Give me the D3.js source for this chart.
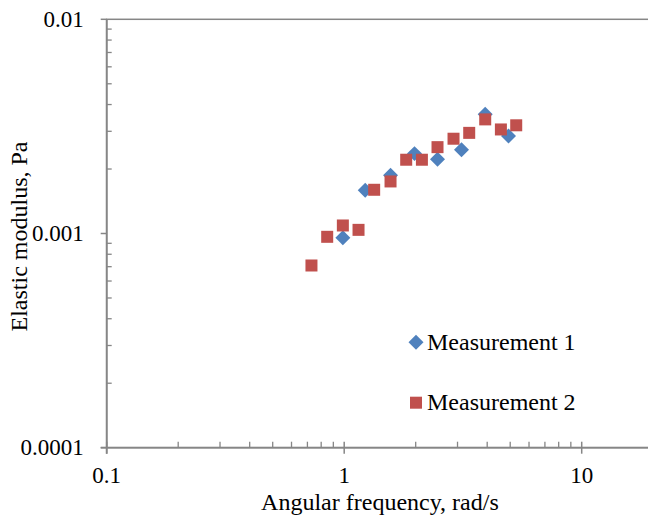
<!DOCTYPE html>
<html>
<head>
<meta charset="utf-8">
<script src="https://cdn.jsdelivr.net/npm/d3@7"></script>
<style>
  body { margin: 0; background: #fff; }
  svg { display: block; }
</style>
</head>
<body>
<svg id="chart" width="648" height="520"></svg>
<script>
// ---- data ----
const m1Freq = [0.987, 1.226, 1.567, 1.977, 2.471, 3.118, 3.924, 4.918];
const m1Mod  = [0.000955, 0.00159, 0.00187, 0.00236, 0.00222, 0.00246, 0.0036, 0.00285];
const m2Freq = [0.728, 0.848, 0.987, 1.149, 1.337, 1.567, 1.824, 2.124, 2.471, 2.886, 3.36, 3.924, 4.568, 5.30];
const m2Mod  = [0.000709, 0.000965, 0.00109, 0.00104, 0.0016, 0.00175, 0.00221, 0.00221, 0.00253, 0.00277, 0.00295, 0.00341, 0.00306, 0.0032];
const seriesNames = ["Measurement 1", "Measurement 2"];
const xMajorTicks = [0.1, 1, 10];
const yMajorTicks = [0.0001, 0.001, 0.01];
const xTickLabels = ["0.1", "1", "10"];
const yTickLabels = ["0.0001", "0.001", "0.01"];
const xTitle = "Angular frequency, rad/s";
const yTitle = "Elastic modulus, Pa";

// ---- layout ----
const FONT = "'Liberation Serif', 'Times New Roman', Times, 'DejaVu Serif', serif";
const svg = d3.select("#chart").style("font-family", FONT).attr("font-family", FONT);
const pLeft = 106.7, pRight = 653.2, pTop = 19.3, pBottom = 447.7;
const axisColor = "#868686";
const blue = "#4F81BD", red = "#C0504D";

const x = d3.scaleLog().domain([0.1, 20]).range([pLeft, pRight]);
const y = d3.scaleLog().domain([0.0001, 0.01]).range([pBottom, pTop]);

// plot border (top/right)
svg.append("rect")
  .attr("x", pLeft).attr("y", pTop)
  .attr("width", pRight - pLeft).attr("height", pBottom - pTop)
  .attr("fill", "none").attr("stroke", axisColor).attr("stroke-width", 1.5);

// minor ticks
const xMinor = [];
[0.1, 1, 10].forEach(d => { for (let k = 2; k <= 9; k++) { const v = d * k; if (v <= 20) xMinor.push(v); } });
const yMinor = [];
[0.0001, 0.001].forEach(d => { for (let k = 2; k <= 9; k++) yMinor.push(d * k); });

// X axis
const xAxisG = svg.append("g").attr("transform", `translate(0,${pBottom})`);
xAxisG.append("line").attr("x1", pLeft - 6).attr("x2", pRight).attr("y1", 0).attr("y2", 0)
  .attr("stroke", axisColor).attr("stroke-width", 1.8);
xAxisG.selectAll(".xminor").data(xMinor).join("line")
  .attr("x1", d => x(d)).attr("x2", d => x(d)).attr("y1", 0).attr("y2", -6)
  .attr("stroke", axisColor).attr("stroke-width", 1.3);
xAxisG.selectAll(".xmajor").data(xMajorTicks).join("line")
  .attr("x1", d => x(d)).attr("x2", d => x(d)).attr("y1", -6).attr("y2", 6)
  .attr("stroke", axisColor).attr("stroke-width", 1.5);
xAxisG.selectAll(".xlab").data(xMajorTicks).join("text")
  .attr("x", d => x(d)).attr("y", 35.5)
  .attr("text-anchor", "middle").attr("font-size", 23).attr("font-family", FONT)
  .text((d, i) => xTickLabels[i]);

// Y axis
const yAxisG = svg.append("g").attr("transform", `translate(${pLeft},0)`);
yAxisG.append("line").attr("x1", 0).attr("x2", 0).attr("y1", pTop).attr("y2", pBottom + 6)
  .attr("stroke", axisColor).attr("stroke-width", 1.8);
yAxisG.selectAll(".yminor").data(yMinor).join("line")
  .attr("x1", 0).attr("x2", 5).attr("y1", d => y(d)).attr("y2", d => y(d))
  .attr("stroke", axisColor).attr("stroke-width", 1.3);
yAxisG.selectAll(".ymajor").data(yMajorTicks).join("line")
  .attr("x1", -6).attr("x2", 0).attr("y1", d => y(d)).attr("y2", d => y(d))
  .attr("stroke", axisColor).attr("stroke-width", 1.5);
yAxisG.selectAll(".ylab").data(yMajorTicks).join("text")
  .attr("x", -23).attr("y", d => y(d) + 7.5)
  .attr("text-anchor", "end").attr("font-size", 23).attr("font-family", FONT)
  .text((d, i) => yTickLabels[i]);

// titles
svg.append("text").attr("x", (pLeft + pRight) / 2).attr("y", 510)
  .attr("text-anchor", "middle").attr("font-size", 24).attr("font-family", FONT).text(xTitle);
svg.append("text").attr("transform", `translate(27,${(pTop + pBottom) / 2 + 3}) rotate(-90)`)
  .attr("text-anchor", "middle").attr("font-size", 24).attr("font-family", FONT).text(yTitle);

// markers
const dSide = 10.6, sSide = 12;
const m1 = m1Freq.map((f, i) => ({ f, v: m1Mod[i] }));
const m2 = m2Freq.map((f, i) => ({ f, v: m2Mod[i] }));

svg.append("g").selectAll("rect").data(m1).join("rect")
  .attr("x", -dSide / 2).attr("y", -dSide / 2).attr("width", dSide).attr("height", dSide)
  .attr("transform", d => `translate(${x(d.f)},${y(d.v)}) rotate(45)`)
  .attr("fill", blue);

svg.append("g").selectAll("rect").data(m2).join("rect")
  .attr("x", d => x(d.f) - sSide / 2).attr("y", d => y(d.v) - sSide / 2)
  .attr("width", sSide).attr("height", sSide)
  .attr("fill", red);

// legend
const lg = svg.append("g");
lg.append("rect").attr("x", -dSide / 2).attr("y", -dSide / 2).attr("width", dSide).attr("height", dSide)
  .attr("transform", "translate(416,342.3) rotate(45)").attr("fill", blue);
lg.append("text").attr("x", 427).attr("y", 350).attr("font-size", 24).attr("font-family", FONT).text(seriesNames[0]);
lg.append("rect").attr("x", 416 - sSide / 2).attr("y", 402.7 - sSide / 2).attr("width", sSide).attr("height", sSide)
  .attr("fill", red);
lg.append("text").attr("x", 427).attr("y", 410).attr("font-size", 24).attr("font-family", FONT).text(seriesNames[1]);
</script>
</body>
</html>
